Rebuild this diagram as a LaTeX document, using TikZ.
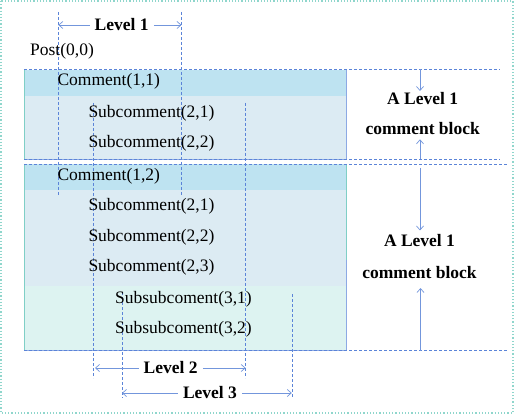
\documentclass[tikz,border=0pt]{standalone}
\usepackage{fontspec}
\setmainfont{Liberation Serif}
\usetikzlibrary{arrows.meta}
\definecolor{lnblue}{HTML}{5B84D8}
\definecolor{arblue}{HTML}{7396DC}
\definecolor{hdr}{HTML}{BEE3F1}
\definecolor{body}{HTML}{DCEBF3}
\definecolor{tealbg}{HTML}{DDF3F1}
\definecolor{frm}{HTML}{8FD6CC}
\definecolor{tealedge}{HTML}{7FCFC6}
\tikzset{
  every node/.style={inner sep=0pt, font=\fontsize{17.5}{20}\selectfont},
  txt/.style={anchor=west},
  lbl/.style={font=\fontsize{17.5}{20}\selectfont\bfseries, inner xsep=5pt},
  guide/.style={draw=lnblue, dash pattern=on 3pt off 2pt, line width=0.6pt},
  dim/.style={draw=arblue, line width=0.7pt, -{Straight Barb[length=4pt,width=7pt]}},
}
\begin{document}
\begin{tikzpicture}[x=1pt,y=-1pt]
\useasboundingbox (0,0) rectangle (514,414);
\draw[frm, dotted, line width=1.2pt] (1,1) rectangle (513,413);

% block 1
\fill[hdr] (24,70) rectangle (346,95.7);
\fill[body] (24,95.7) rectangle (346,159);
\draw[tealedge, line width=0.7pt] (24,70) -- (24,159);
\draw[lnblue!70, line width=0.8pt] (346,70) -- (346,159) -- (24,159);
% block 2
\fill[hdr] (24,164) rectangle (346,190);
\fill[body] (24,190) rectangle (346,285.7);
\fill[tealbg] (24,285.7) rectangle (346,350);
\draw[tealedge, line width=0.7pt] (24,164) -- (24,350);
\draw[tealedge, line width=0.7pt] (346,164) -- (346,260);
\draw[lnblue!70, line width=0.8pt] (346,260) -- (346,350) -- (24,350);

% horizontal guides
\coordinate (h1a) at (24,69.5); \coordinate (h1b) at (500,69.5);
\coordinate (h2a) at (24,159.5); \coordinate (h2b) at (500,159.5);
\coordinate (h3a) at (24,164); \coordinate (h3b) at (507,164);
\coordinate (h4a) at (24,350.5); \coordinate (h4b) at (507,350.5);
\draw[guide] (h1a) -- (h1b);
\draw[guide] (h2a) -- (h2b);
\draw[guide] (h3a) -- (h3b);
\draw[guide] (h4a) -- (h4b);

% vertical guides
\coordinate (v1t) at (58.3,12); \coordinate (v1b) at (58.3,195);
\coordinate (v2t) at (181.5,12); \coordinate (v2b) at (181.5,195);
\coordinate (v3t) at (93.3,103); \coordinate (v3b) at (93.3,378);
\coordinate (v4t) at (245.7,103); \coordinate (v4b) at (245.7,378);
\coordinate (v5t) at (121.8,292); \coordinate (v5b) at (121.8,398);
\coordinate (v6t) at (291.8,294); \coordinate (v6b) at (291.8,398);
\draw[guide] (v1t) -- (v1b);
\draw[guide] (v2t) -- (v2b);
\draw[guide] (v3t) -- (v3b);
\draw[guide] (v4t) -- (v4b);
\draw[guide] (v5t) -- (v5b);
\draw[guide] (v6t) -- (v6b);

% texts
\node[txt] (post) at (30,51) {Post(0,0)};
\node[txt] (c11) at (57.3,81.7) {Comment(1,1)};
\node[txt] (s21a) at (88.3,113) {Subcomment(2,1)};
\node[txt] (s22a) at (88.3,143.5) {Subcomment(2,2)};
\node[txt] (c12) at (57.3,176) {Comment(1,2)};
\node[txt] (s21b) at (88.3,206.7) {Subcomment(2,1)};
\node[txt] (s22b) at (88.3,237.3) {Subcomment(2,2)};
\node[txt] (s23b) at (88.3,267.7) {Subcomment(2,3)};
\node[txt] (ss31) at (115,299) {Subsubcoment(3,1)};
\node[txt] (ss32) at (115,329.3) {Subsubcoment(3,2)};

% level dims
\node[lbl] (lv1) at (121.7,25) {Level 1};
\coordinate (lv1l) at (58.3,25); \coordinate (lv1r) at (181.5,25);
\draw[dim] (lv1.west) -- (lv1l);
\draw[dim] (lv1.east) -- (lv1r);
\node[lbl] (lv2) at (170.7,368) {Level 2};
\coordinate (lv2l) at (95,368); \coordinate (lv2r) at (245.7,368);
\draw[dim] (lv2.west) -- (lv2l);
\draw[dim] (lv2.east) -- (lv2r);
\node[lbl] (lv3) at (210,393) {Level 3};
\coordinate (lv3l) at (122,393); \coordinate (lv3r) at (291.8,393);
\draw[dim] (lv3.west) -- (lv3l);
\draw[dim] (lv3.east) -- (lv3r);

% block labels
\node[lbl, inner xsep=0pt] (b1a) at (422.7,98.3) {A Level 1};
\node[lbl, inner xsep=0pt] (b1b) at (422.7,128.3) {comment block};
\coordinate (b1t) at (420,69.5); \coordinate (b1tt) at (420,91);
\coordinate (b1d) at (420,159.5); \coordinate (b1dd) at (420,139.3);
\draw[dim] (b1t) -- (b1tt);
\draw[dim] (b1d) -- (b1dd);
\node[lbl, inner xsep=0pt] (b2a) at (419.5,240.7) {A Level 1};
\node[lbl, inner xsep=0pt] (b2b) at (419.5,272.3) {comment block};
\coordinate (b2t) at (420,168); \coordinate (b2tt) at (420,230.5);
\coordinate (b2d) at (420.5,350.5); \coordinate (b2dd) at (420.5,288);
\draw[dim] (b2t) -- (b2tt);
\draw[dim] (b2d) -- (b2dd);
\end{tikzpicture}
\end{document}
